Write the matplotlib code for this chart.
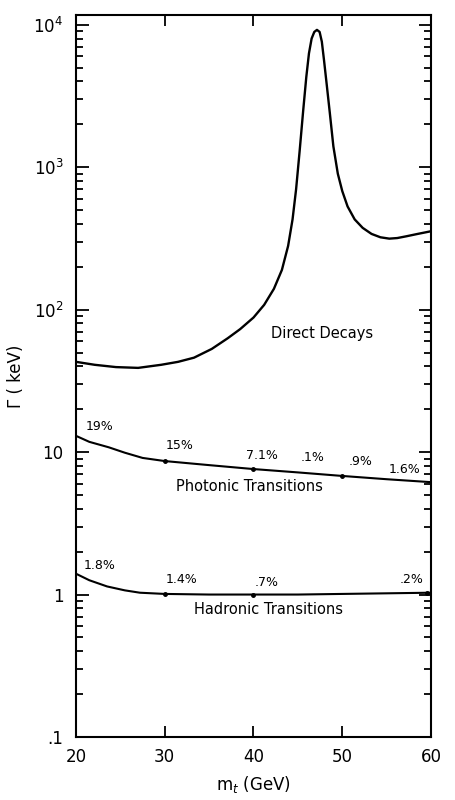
import matplotlib
matplotlib.use("Agg")
import matplotlib.pyplot as plt
from matplotlib.ticker import FixedLocator, LogLocator, NullFormatter

# values (m_t in GeV, Gamma in keV)
direct_m = [20.0, 22.1, 24.5, 27.0, 29.6, 31.5, 33.3, 35.3, 37.1, 38.5, 40.0,
            41.2, 42.3, 43.2, 43.9, 44.4, 44.8, 45.2, 45.6, 45.95, 46.25, 46.55,
            46.85, 47.15, 47.45, 47.7, 47.95, 48.25, 48.6, 49.0, 49.5, 50.0,
            50.6, 51.4, 52.3, 53.3, 54.3, 55.3, 56.2, 57.2, 58.5, 60.0]
direct_g = [43, 41, 39.5, 39, 41, 43, 46, 53, 63, 73, 88,
            108, 140, 190, 280, 430, 700, 1300, 2500, 4300, 6300, 8000,
            8900, 9200, 8900, 7600, 5600, 3800, 2400, 1400, 900, 680,
            530, 430, 375, 340, 322, 315, 318, 327, 340, 355]

photonic_m = [20.0, 21.5, 23.7, 25.5, 27.5, 30.0, 35.0, 40.0, 45.0, 50.0, 55.0, 60.0]
photonic_g = [13.0, 11.8, 10.8, 9.9, 9.1, 8.65, 8.1, 7.6, 7.2, 6.8, 6.45, 6.15]

hadronic_m = [20.0, 21.5, 23.5, 25.5, 27.2, 30.0, 35.0, 40.0, 45.0, 50.0, 55.0, 60.0]
hadronic_g = [1.40, 1.26, 1.14, 1.07, 1.03, 1.01, 1.0, 1.0, 1.0, 1.01, 1.02, 1.03]

# branching-ratio annotations on the transition curves
photonic_pct = ["19%", "15%", "7.1%", ".1%", ".9%", "1.6%"]
photonic_pct_m = [22.7, 31.7, 41.0, 46.6, 52.1, 57.0]
photonic_pct_g = [15.0, 11.2, 9.5, 9.1, 8.65, 7.6]
photonic_dots_m = [30, 40, 50]
photonic_dots_g = [8.65, 7.6, 6.8]

hadronic_pct = ["1.8%", "1.4%", ".7%", ".2%"]
hadronic_pct_m = [22.7, 31.9, 41.5, 57.8]
hadronic_pct_g = [1.6, 1.27, 1.21, 1.27]
hadronic_dots_m = [30, 40, 59.6]
hadronic_dots_g = [1.01, 1.0, 1.03]

yticks = [0.1, 1, 10, 100, 1000, 10000]
yticklabels = [".1", "1", "10", r"$10^2$", r"$10^3$", r"$10^4$"]
xticks = [20, 30, 40, 50, 60]

plt.rcParams["font.family"] = ["DejaVu Sans"]

fig = plt.figure(figsize=(4.56, 8), dpi=100)
ax = fig.add_axes([76 / 456, 63 / 800, 355 / 456, 722 / 800])

ax.plot(direct_m, direct_g, color="black", lw=1.7, solid_joinstyle="round")
ax.plot(photonic_m, photonic_g, color="black", lw=1.5, solid_joinstyle="round")
ax.plot(hadronic_m, hadronic_g, color="black", lw=1.5, solid_joinstyle="round")
ax.plot(photonic_dots_m, photonic_dots_g, "o", color="black", ms=2.5)
ax.plot(hadronic_dots_m, hadronic_dots_g, "o", color="black", ms=2.5)

for t, m, g in zip(photonic_pct, photonic_pct_m, photonic_pct_g):
    ax.text(m, g, t, fontsize=9, ha="center", va="center")
for t, m, g in zip(hadronic_pct, hadronic_pct_m, hadronic_pct_g):
    ax.text(m, g, t, fontsize=9, ha="center", va="center")

ax.text(47.7, 68, "Direct Decays", fontsize=10.5, ha="center", va="center")
ax.text(39.5, 5.7, "Photonic Transitions", fontsize=10.5, ha="center", va="center")
ax.text(41.7, 0.785, "Hadronic Transitions", fontsize=10.5, ha="center", va="center")

ax.set_yscale("log")
ax.set_xlim(20, 60)
ax.set_ylim(0.1, 1.17e4)
ax.set_xticks(xticks)
ax.set_xticklabels([str(v) for v in xticks], fontsize=12)
ax.yaxis.set_major_locator(FixedLocator(yticks))
ax.set_yticklabels(yticklabels, fontsize=12)
ax.yaxis.set_minor_locator(LogLocator(base=10, subs=range(2, 10)))
ax.yaxis.set_minor_formatter(NullFormatter())

ax.tick_params(which="both", direction="in", top=True, right=True, width=1.3)
ax.tick_params(which="major", length=9, pad=9)
ax.tick_params(which="minor", length=5)
ax.tick_params(axis="x", which="major", length=8, pad=8)
for s in ax.spines.values():
    s.set_linewidth(1.5)

ax.set_xlabel(r"m$_t$ (GeV)", fontsize=12, labelpad=6)
ax.set_ylabel("Γ ( keV)", fontsize=12, labelpad=6)

fig.savefig("out.png", dpi=100)
